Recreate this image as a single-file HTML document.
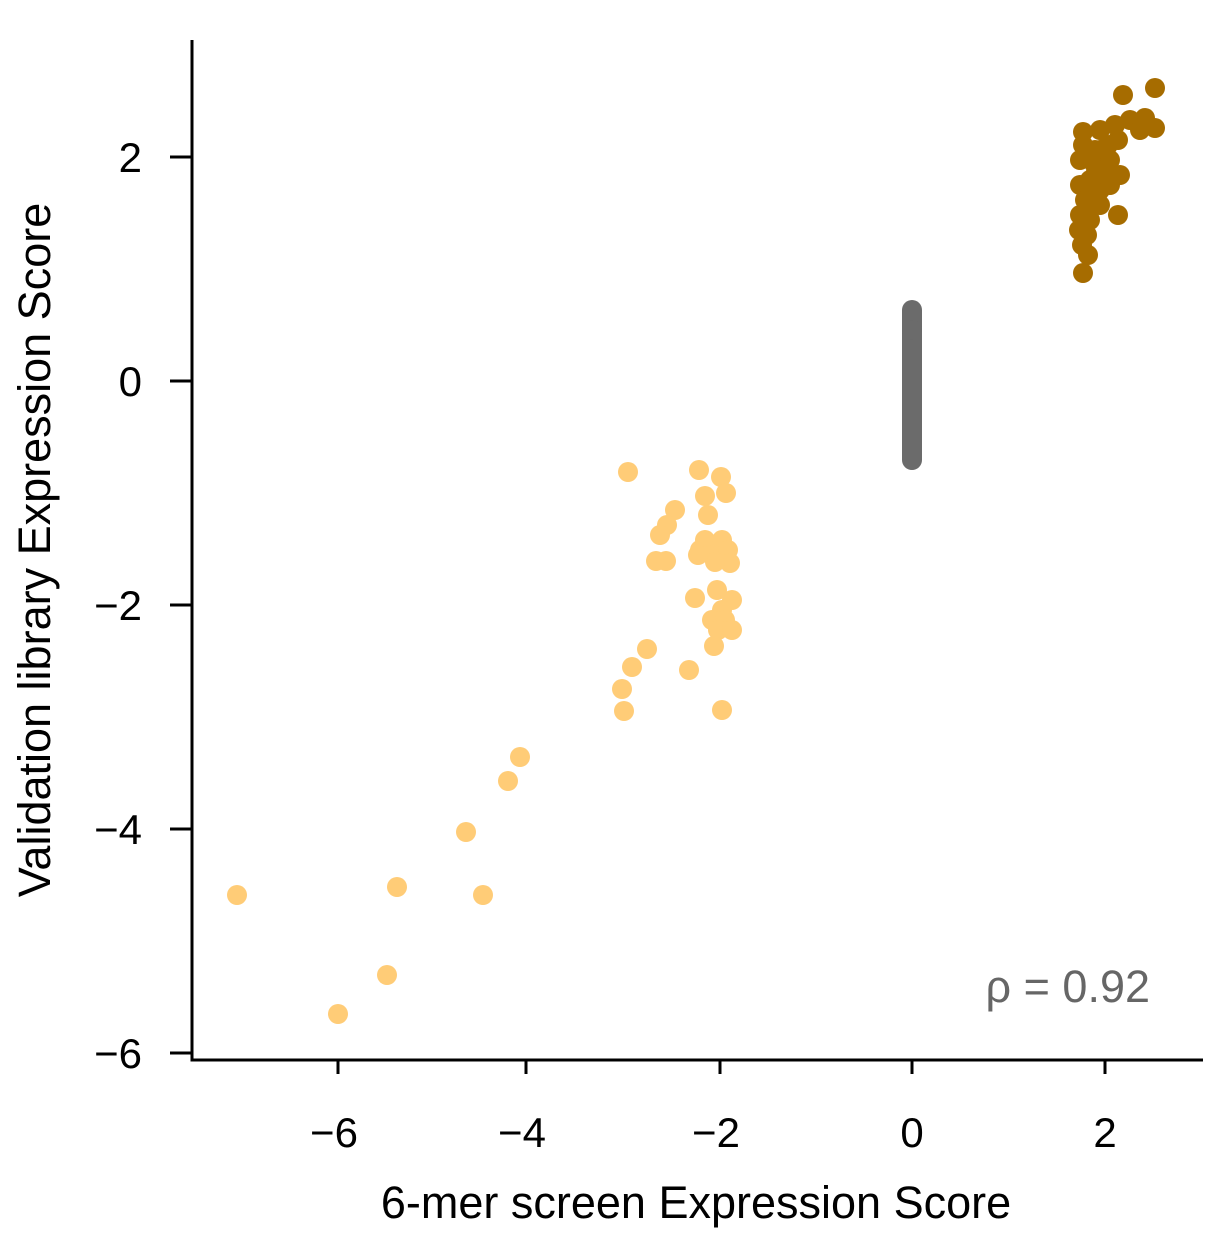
<!DOCTYPE html><html><head><style>body{margin:0;background:#fff}</style></head><body>
<svg width="1230" height="1244" xmlns="http://www.w3.org/2000/svg" font-family="Liberation Sans, sans-serif">
<g stroke="#000" stroke-width="3" fill="none">
<path d="M192 40V1060H1203"/>
<path d="M338 1060v14M526 1060v14M720 1060v14M912 1060v14M1105 1060v14"/>
<path d="M192 157h-22M192 381h-22M192 605h-22M192 829h-22M192 1053h-22"/>
</g>
<g font-size="42" text-anchor="middle" fill="#000">
<text x="334" y="1147">−6</text><text x="522" y="1147">−4</text><text x="716" y="1147">−2</text><text x="912" y="1147">0</text><text x="1105" y="1147">2</text>
</g>
<g font-size="42" text-anchor="end" fill="#000">
<text x="142" y="172">2</text><text x="142" y="396">0</text><text x="142" y="620">−2</text><text x="142" y="844">−4</text><text x="142" y="1068">−6</text>
</g>
<text x="696" y="1218" font-size="45" text-anchor="middle">6-mer screen Expression Score</text>
<text transform="translate(50,550) rotate(-90)" font-size="45" text-anchor="middle">Validation library Expression Score</text>
<text x="1150" y="1002" font-size="45" text-anchor="end" fill="#666">ρ = 0.92</text>
<g fill="#FFCC77">
<circle cx="237" cy="895" r="10"/><circle cx="338" cy="1014" r="10"/><circle cx="387" cy="975" r="10"/><circle cx="397" cy="887" r="10"/><circle cx="466" cy="832" r="10"/><circle cx="483" cy="895" r="10"/><circle cx="508" cy="781" r="10"/><circle cx="520" cy="757" r="10"/><circle cx="622" cy="689" r="10"/><circle cx="624" cy="711" r="10"/><circle cx="632" cy="667" r="10"/><circle cx="647" cy="649" r="10"/><circle cx="628" cy="472" r="10"/><circle cx="699" cy="470" r="10"/><circle cx="721" cy="477" r="10"/><circle cx="726" cy="493" r="10"/><circle cx="705" cy="496" r="10"/><circle cx="708" cy="515" r="10"/><circle cx="675" cy="510" r="10"/><circle cx="667" cy="525" r="10"/><circle cx="660" cy="535" r="10"/><circle cx="656" cy="561" r="10"/><circle cx="666" cy="561" r="10"/><circle cx="700" cy="550" r="10"/><circle cx="705" cy="540" r="10"/><circle cx="712" cy="555" r="10"/><circle cx="722" cy="540" r="10"/><circle cx="728" cy="550" r="10"/><circle cx="730" cy="563" r="10"/><circle cx="715" cy="562" r="10"/><circle cx="698" cy="555" r="10"/><circle cx="695" cy="598" r="10"/><circle cx="717" cy="590" r="10"/><circle cx="732" cy="600" r="10"/><circle cx="722" cy="610" r="10"/><circle cx="712" cy="620" r="10"/><circle cx="725" cy="620" r="10"/><circle cx="718" cy="630" r="10"/><circle cx="732" cy="630" r="10"/><circle cx="714" cy="646" r="10"/><circle cx="689" cy="670" r="10"/><circle cx="722" cy="710" r="10"/>
</g>
<g fill="#6b6b6b">
<rect x="902" y="300" width="20" height="170" rx="10"/>
<circle cx="912" cy="330" r="10"/>
</g>
<g fill="#A66C00">
<circle cx="1155" cy="88" r="10"/><circle cx="1123" cy="95" r="10"/><circle cx="1083" cy="132" r="10"/><circle cx="1083" cy="145" r="10"/><circle cx="1100" cy="130" r="10"/><circle cx="1115" cy="125" r="10"/><circle cx="1130" cy="120" r="10"/><circle cx="1145" cy="118" r="10"/><circle cx="1140" cy="130" r="10"/><circle cx="1155" cy="128" r="10"/><circle cx="1118" cy="140" r="10"/><circle cx="1100" cy="150" r="10"/><circle cx="1080" cy="160" r="10"/><circle cx="1095" cy="165" r="10"/><circle cx="1110" cy="160" r="10"/><circle cx="1120" cy="175" r="10"/><circle cx="1090" cy="180" r="10"/><circle cx="1080" cy="185" r="10"/><circle cx="1100" cy="190" r="10"/><circle cx="1110" cy="185" r="10"/><circle cx="1085" cy="200" r="10"/><circle cx="1095" cy="205" r="10"/><circle cx="1080" cy="215" r="10"/><circle cx="1090" cy="220" r="10"/><circle cx="1079" cy="230" r="10"/><circle cx="1087" cy="235" r="10"/><circle cx="1082" cy="245" r="10"/><circle cx="1118" cy="215" r="10"/><circle cx="1083" cy="273" r="10"/><circle cx="1095" cy="175" r="10"/><circle cx="1105" cy="170" r="10"/><circle cx="1090" cy="195" r="10"/><circle cx="1100" cy="205" r="10"/><circle cx="1088" cy="255" r="10"/><circle cx="1095" cy="150" r="10"/><circle cx="1108" cy="145" r="10"/>
</g>
</svg>
</body></html>
